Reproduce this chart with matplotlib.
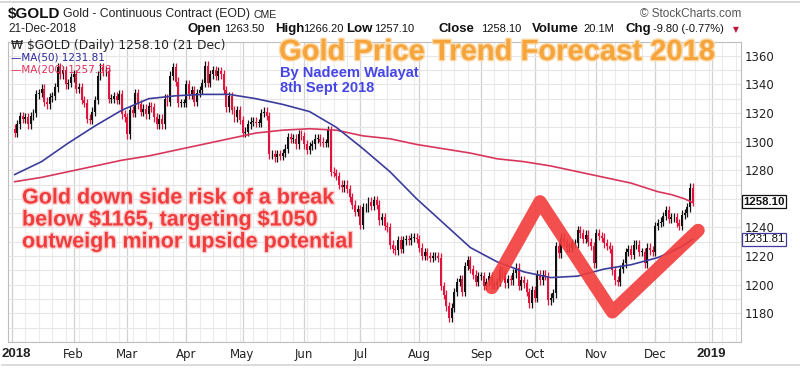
import numpy as np
import pandas as pd
import matplotlib
matplotlib.use("Agg")
import matplotlib.pyplot as plt
import matplotlib.patheffects as pe
import matplotlib.transforms as mtransforms
from matplotlib.lines import Line2D

# daily closes of $GOLD (continuous contract)
jan = [1306, 1312, 1318, 1316, 1317, 1312, 1318, 1320, 1333, 1334, 1337, 1328,
       1326, 1331, 1332, 1338, 1352, 1347, 1350, 1340, 1341, 1345]
feb = [1347, 1337, 1338, 1329, 1327, 1316, 1315, 1321, 1329, 1346, 1352, 1349,
       1349, 1330, 1330, 1332, 1329, 1333, 1319, 1317]
mar = [1305, 1322, 1320, 1334, 1326, 1321, 1323, 1319, 1325, 1324, 1317, 1312,
       1316, 1312, 1330, 1328, 1346, 1352, 1342, 1327, 1327, 1327]
apr = [1340, 1333, 1336, 1328, 1334, 1336, 1341, 1353, 1341, 1347, 1350, 1346,
       1349, 1347, 1336, 1324, 1332, 1322, 1317, 1322, 1315]
may = [1306, 1307, 1312, 1314, 1314, 1313, 1313, 1320, 1321, 1318, 1291, 1291,
       1289, 1291, 1290, 1292, 1295, 1303, 1302, 1302, 1298, 1305, 1304]
jun = [1298, 1294, 1297, 1298, 1302, 1302, 1300, 1299, 1299, 1308, 1279, 1278,
       1276, 1270, 1268, 1270, 1267, 1261, 1256, 1251, 1253]
jul = [1242, 1254, 1254, 1258, 1255, 1259, 1256, 1245, 1247, 1241, 1240, 1228,
       1225, 1224, 1231, 1225, 1231, 1232, 1231, 1233, 1233, 1232]
aug = [1226, 1220, 1223, 1220, 1219, 1220, 1220, 1219, 1199, 1193, 1185, 1177,
       1184, 1195, 1202, 1204, 1195, 1213, 1217, 1211, 1207, 1202, 1206]
sep = [1206, 1199, 1202, 1206, 1200, 1200, 1202, 1210, 1208, 1201, 1204, 1203,
       1208, 1212, 1199, 1203, 1201, 1195, 1187, 1196]
oct_ = [1191, 1207, 1203, 1207, 1206, 1189, 1191, 1194, 1227, 1222, 1233, 1230,
        1226, 1226, 1229, 1229, 1238, 1236, 1232, 1235, 1230, 1227, 1215]
nov = [1236, 1234, 1233, 1229, 1227, 1225, 1210, 1203, 1202, 1211, 1215, 1223,
       1225, 1221, 1228, 1228, 1223, 1223, 1215, 1226, 1224, 1223]
dec = [1241, 1243, 1244, 1248, 1252, 1246, 1247, 1247, 1243, 1241, 1249, 1250,
       1254, 1267.9, 1258.1]

# moving averages sampled every 10 trading days
ma_day = [0, 10, 20, 30, 40, 50, 60, 70, 80, 90, 100, 110, 120, 130, 140, 150,
          160, 170, 180, 190, 200, 210, 220, 230, 240, 245, 250, 253]
ma50 = [1277, 1286, 1299, 1311, 1322, 1330, 1332, 1333, 1333, 1330, 1326, 1321,
        1310, 1295, 1279, 1260, 1243, 1226, 1216, 1209, 1205, 1206, 1211, 1214,
        1219, 1223, 1228, 1231.81]
ma200 = [1272, 1275, 1279, 1283, 1287, 1290, 1294, 1298, 1302, 1306, 1308, 1309,
         1308, 1304, 1302, 1298, 1295, 1292, 1288, 1286, 1283, 1279, 1275, 1271,
         1265, 1263, 1260, 1257.38]

# hand drawn forecast zig-zag (trading day, price)
fc_day = [178, 196, 223, 255]
fc_price = [1198, 1258, 1181, 1238]

closes = np.array(jan + feb + mar + apr + may + jun + jul + aug + sep + oct_ + nov + dec)
opens = np.r_[1309.0, closes[:-1]]
days = np.arange(len(closes))

W, H = 800, 368
fig = plt.figure(figsize=(W / 100, H / 100), dpi=100)
fig.patch.set_facecolor('white')
ax = fig.add_axes([8 / W, 1 - 342 / H, 733 / W, 300 / H])
SANS = 'Liberation Sans'


def fx(x, y):
    return x / W, 1 - y / H


# thin frame lines of the stockcharts image
fig.add_artist(Line2D([0, 1], [1 - 1.5 / H] * 2, color='#cfcfcf', lw=1.2))
fig.add_artist(Line2D([2 / W, 1], [1 - 365 / H] * 2, color='#d5d5d5', lw=1.2))

# grid: weekly + monthly verticals, every 10 horizontally
cal = pd.bdate_range('2018-01-01', '2019-01-31')
pos = np.arange(len(cal)) - 1
for p, d in zip(pos, cal):
    if d.weekday() == 0:
        ax.axvline(p, color='#ececec', lw=0.8, zorder=0)
month_pos, month_lab = [-1], ['2018']
for p, d, prev in zip(pos[1:], cal[1:], cal[:-1]):
    if d.month != prev.month:
        month_pos.append(p)
        month_lab.append(d.strftime('%b') if d.month != 1 else str(d.year))
for p in month_pos:
    ax.axvline(p, color='#d2d2d2', lw=0.9, zorder=0)
for v in range(1160, 1371, 10):
    ax.axhline(v, color='#e6e6e6', lw=0.8, zorder=0)

# candles
up = closes >= opens
col = np.where(up, '#111111', '#e0143c')
hi = np.maximum(opens, closes) + 3
lo = np.minimum(opens, closes) - 3
ax.vlines(days, lo, hi, colors=col, lw=0.9, zorder=3)
ax.bar(days, np.maximum(np.abs(closes - opens), 0.5), bottom=np.minimum(opens, closes),
       width=0.7, color=col, zorder=3)

ax.plot(ma_day, ma200, color='#d9365e', lw=1.2, zorder=4)
ax.plot(ma_day, ma50, color='#3c3c9c', lw=1.2, zorder=4)

ax.plot(fc_day, fc_price, color='#f23c3c', lw=9.5, alpha=0.9,
        solid_capstyle='round', solid_joinstyle='round', zorder=5)

ax.set_xlim(-2.5, 271)
ax.set_ylim(1160, 1369.6)
ax.yaxis.tick_right()
ax.set_yticks([1180, 1200, 1220, 1240, 1280, 1300, 1320, 1340, 1360])
ax.tick_params(axis='y', length=0, pad=3, labelsize=8.5, colors='#222222')
ax.set_xticks(month_pos)
ax.set_xticklabels(month_lab)
ax.tick_params(axis='x', length=0, pad=4, labelsize=8.5, colors='#222222')
for t in ax.get_xticklabels():
    if t.get_text() in ('2018', '2019'):
        t.set_fontweight('bold')
        t.set_fontsize(9.5)
        t.set_family(SANS)
    if t.get_text() == '2018':
        t.set_horizontalalignment('left')
        t.set_transform(t.get_transform() +
                        mtransforms.ScaledTranslation(-11 / 100, 0, fig.dpi_scale_trans))
for s in ax.spines.values():
    s.set_color('#bdbdbd')
    s.set_linewidth(0.8)

# price tags on the right axis
tr = ax.get_yaxis_transform()
ax.text(1.003, 1258.1, '1258.10', transform=tr, va='center', ha='left', fontsize=8.2,
        family=SANS, fontweight='bold', color='#111111',
        bbox=dict(boxstyle='square,pad=0.12', fc='white', ec='#111111', lw=0.9))
ax.text(1.003, 1231.81, '1231.81', transform=tr, va='center', ha='left', fontsize=8.2,
        family=SANS, color='#111111',
        bbox=dict(boxstyle='square,pad=0.12', fc='white', ec='#3c3c9c', lw=0.9))

# header
fig.text(*fx(8, 14), r'\$GOLD', fontsize=11, fontweight='bold', family=SANS,
         va='center', color='#111111')
fig.text(*fx(63, 14), 'Gold - Continuous Contract (EOD)', fontsize=8.8, family=SANS,
         va='center', color='#222222')
fig.text(*fx(254, 15), 'CME', fontsize=7.5, family=SANS, va='center', color='#222222')
fig.text(*fx(8, 29), '21-Dec-2018', fontsize=8.5, family=SANS, va='center', color='#222222')
fig.text(*fx(741, 14), '\u00a9 StockCharts.com', fontsize=8.5, family=SANS, va='center',
         ha='right', color='#555555')
hdr = [(187, 'Open', True), (224, '1263.50', False), (275, 'High', True),
       (303, '1266.20', False), (346, 'Low', True), (374, '1257.10', False),
       (439, 'Close', True), (481, '1258.10', False), (532, 'Volume', True),
       (583, '20.1M', False), (625, 'Chg', True), (653, '-9.80 (-0.77%)', False)]
for x, s, b in hdr:
    fig.text(*fx(x, 29), s, fontsize=9.5 if b else 8, fontweight='bold' if b else 'normal',
             family=SANS, va='center', color='#111111')
fig.text(*fx(733, 30), '\u25bc', fontsize=5.5, va='center', color='#c0103a')

# legend inside the plot
fig.text(*fx(11, 45), '\u20a9 \\$GOLD (Daily) 1258.10 (21 Dec)', fontsize=8.8,
         va='center', color='#222222')
fig.text(*fx(11, 57), '\u2014MA(50) 1231.81', fontsize=7.5, va='center', color='#2a2a9a')
fig.text(*fx(11, 69), '\u2014MA(200) 1257.38', fontsize=7.5, va='center', color='#e0305a')

# annotations
fig.text(*fx(279, 52), 'Gold Price Trend Forecast 2018', fontsize=21, fontweight='bold',
         family=SANS, va='center', color='#f5a53c',
         path_effects=[pe.withStroke(linewidth=2, foreground='#fbd9a8')])
fig.text(*fx(280, 73), 'By Nadeem Walayat', fontsize=10.5, fontweight='bold',
         family=SANS, va='center', color='#4646e6')
fig.text(*fx(280, 88), '8th Sept 2018', fontsize=10.5, fontweight='bold',
         family=SANS, va='center', color='#4646e6')
red_lines = ['Gold down side risk of a break', 'below \\$1165, targeting \\$1050',
             'outweigh minor upside potential']
for k, s in enumerate(red_lines):
    fig.text(*fx(22, 198 + 22 * k), s, fontsize=15.5, fontweight='bold',
             family=SANS, va='center', color='#f03c3c',
             path_effects=[pe.withStroke(linewidth=2, foreground='#fbd0d0')])

fig.savefig('out.png', dpi=100)
